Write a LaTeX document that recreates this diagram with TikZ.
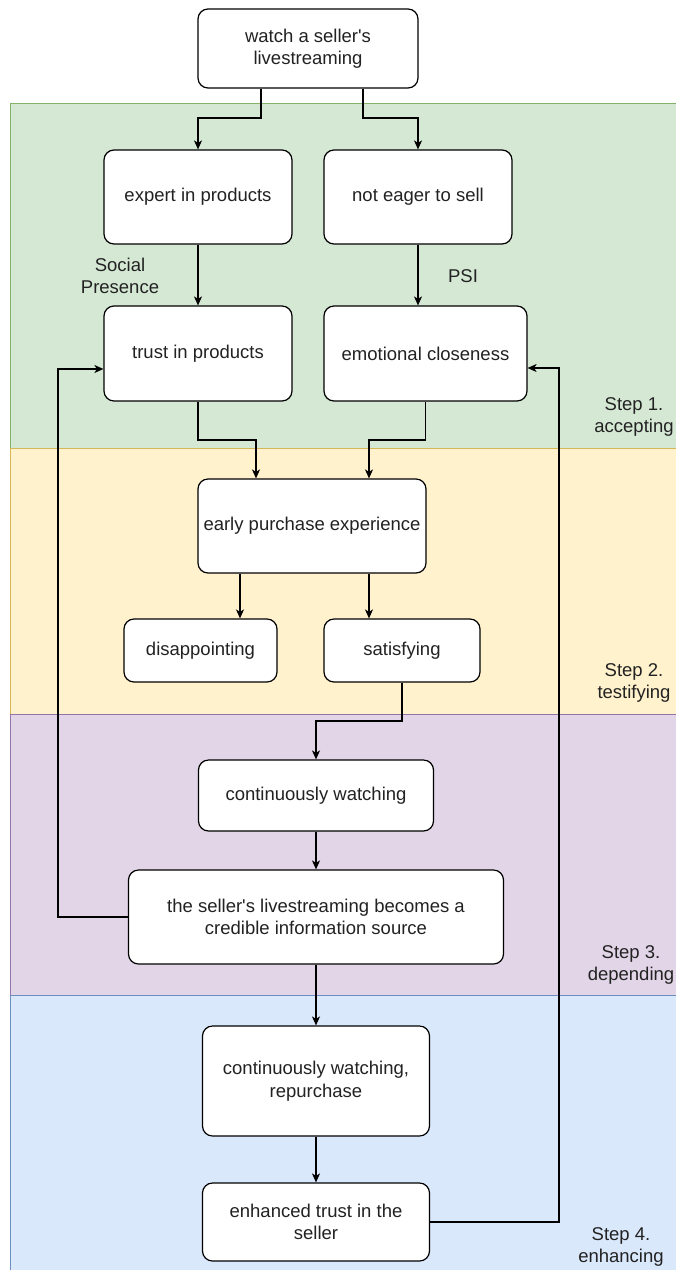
\documentclass[tikz,border=0pt]{standalone}
\usepackage{fontspec}
\setmainfont{Liberation Sans}
\usetikzlibrary{arrows.meta}
\definecolor{gfill}{HTML}{D5E8D4}\definecolor{gline}{HTML}{82B366}
\definecolor{yfill}{HTML}{FFF2CC}\definecolor{yline}{HTML}{D6B656}
\definecolor{pfill}{HTML}{E1D5E7}\definecolor{pline}{HTML}{9673A6}
\definecolor{bfill}{HTML}{DAE8FC}\definecolor{bline}{HTML}{6C8EBF}
\definecolor{txt}{HTML}{222222}
\tikzset{
  box/.style={draw=black, fill=white, rounded corners=10pt, line width=1.2pt, align=center,
    inner sep=0pt, text=txt, font=\fontsize{18.5pt}{22.5pt}\selectfont},
  arr/.style={line width=1.2pt, -{Stealth[length=9pt,width=8pt,inset=2.5pt]}},
  lbl/.style={align=center, inner sep=0pt, text=txt, font=\fontsize{18.5pt}{22pt}\selectfont},
  band/.style={line width=1pt}
}
\begin{document}
\begin{tikzpicture}[x=1pt,y=-1pt]
\useasboundingbox (0,0) rectangle (676,1270);
\clip (0,0) rectangle (676,1270);
\fill[white] (0,0) rectangle (676,1270);
% bands
\draw[band, draw=gline, fill=gfill] (10,103) rectangle (700,448);
\draw[band, draw=yline, fill=yfill] (10,448) rectangle (700,714);
\draw[band, draw=pline, fill=pfill] (10,714) rectangle (700,995);
\draw[band, draw=bline, fill=bfill] (10,995) rectangle (700,1290);
% step labels
\node[lbl] (s1) at (634,416.5) {Step 1.\\accepting};
\node[lbl] (s2) at (634,682.5) {Step 2.\\testifying};
\node[lbl] (s3) at (631,964.5) {Step 3.\\depending};
\node[lbl] (s4) at (621,1246.5) {Step 4.\\enhancing};
% nodes
\node[box, minimum width=220pt, minimum height=79pt] (top) at (308,48.5) {watch a seller\textquotesingle s\\livestreaming};
\node[box, minimum width=188pt, minimum height=94pt] (expert) at (198,197) {expert in products};
\node[box, minimum width=188pt, minimum height=94pt] (eager) at (418,197) {not eager to sell};
\node[box, minimum width=188pt, minimum height=95pt] (trust) at (198,353.5) {trust in products};
\node[box, minimum width=203pt, minimum height=95pt] (emo) at (425.5,353.5) {emotional closeness};
\node[box, minimum width=228pt, minimum height=94pt] (early) at (312,526) {early purchase experience};
\node[box, minimum width=153pt, minimum height=63pt] (disap) at (200.5,650.5) {disappointing};
\node[box, minimum width=156pt, minimum height=63pt] (satis) at (402,650.5) {satisfying};
\node[box, minimum width=235pt, minimum height=71pt] (cw) at (316,795.5) {continuously watching};
\node[box, minimum width=375pt, minimum height=94pt] (cred) at (316,917) {the seller\textquotesingle s livestreaming becomes a\\credible information source};
\node[box, minimum width=227pt, minimum height=110pt] (rep) at (316,1081) {continuously watching,\\repurchase};
\node[box, minimum width=227pt, minimum height=78pt] (enh) at (316,1222) {enhanced trust in the\\seller};
% edge labels
\node[lbl] (sp) at (120,276) {Social\\Presence};
\node[lbl] (psi) at (463,276) {PSI};
% connectors
\draw[arr] (top.south -| 261,0) |- (198,118) -- (expert.north);
\draw[arr] (top.south -| 363,0) |- (418,118) -- (eager.north);
\draw[arr] (expert.south) -- (trust.north);
\draw[arr] (eager.south) -- (eager.south |- emo.north);
\draw[arr] (trust.south) |- (256,440) -- (early.north -| 256,0);
\draw[arr] (emo.south) |- (369,440) -- (early.north -| 369,0);
\draw[arr] (early.south -| 240,0) -- (disap.north -| 240,0);
\draw[arr] (early.south -| 369,0) -- (satis.north -| 369,0);
\draw[arr] (satis.south) |- (316,721) -- (cw.north);
\draw[arr] (cw.south) -- (cred.north);
\draw[arr] (cred.west) -| (58,369) -- (trust.west |- 0,369);
\draw[arr] (cred.south) -- (rep.north);
\draw[arr] (rep.south) -- (enh.north);
\draw[arr] (enh.east) -| (559,368) -- (emo.east |- 0,368);
\end{tikzpicture}
\end{document}
